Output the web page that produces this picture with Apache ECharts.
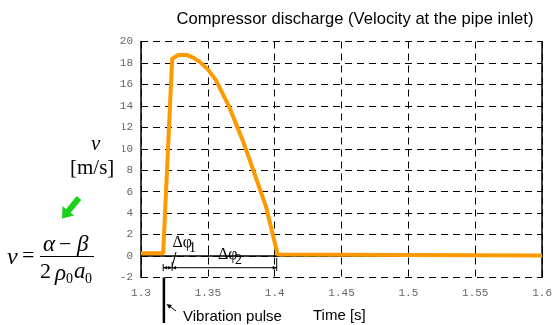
<!DOCTYPE html>
<html lang="en">
<head>
    <meta charset="UTF-8">
    <title>Compressor discharge</title>
    <script src="https://cdn.jsdelivr.net/npm/echarts@6/dist/echarts.min.js"></script>
    <style>
        body { margin: 0; padding: 0; background: #fff; }
        #box { width: 555px; height: 325px; }
    </style>
</head>
<body>
<div id="box"></div>
<script>
    // time [s] and velocity [m/s]
    var times = [1.3, 1.3166, 1.3233, 1.328, 1.334, 1.339, 1.344, 1.350, 1.356, 1.366, 1.376, 1.384, 1.3935, 1.4022, 1.6];
    var velocity = [0.25, 0.25, 18.4, 18.75, 18.75, 18.5, 18.1, 17.4, 16.4, 13.9, 10.8, 8.0, 4.6, 0.15, 0.05];
    var xTicks = [1.3, 1.35, 1.4, 1.45, 1.5, 1.55, 1.6];
    var pulseTime = 1.3166;   // vibration pulse
    var phi1End = 1.3233;     // end of delta phi 1
    var phi2End = 1.4015;     // end of delta phi 2

    var serif = '"Liberation Serif", "DejaVu Serif", serif';
    var sans = '"Liberation Sans", Arial, sans-serif';
    var mono = '"Liberation Mono", "DejaVu Sans Mono", monospace';

    var myChart = echarts.init(document.getElementById('box'));

    var option = {
        animation: false,
        grid: { left: 141, right: 11, top: 41.5, bottom: 47.5 },
        xAxis: {
            type: 'value',
            min: xTicks[0],
            max: xTicks[xTicks.length - 1],
            interval: 0.05,
            axisLine: { lineStyle: { color: '#000', width: 1.5 } },
            axisTick: { inside: true, length: 4, lineStyle: { color: '#000' } },
            axisLabel: { color: '#666', fontFamily: mono, fontSize: 11, margin: 10 },
            splitLine: { show: true, lineStyle: { color: '#000', type: [7, 5], width: 1 } }
        },
        yAxis: [{
            type: 'value',
            min: -2,
            max: 20,
            interval: 2,
            axisLine: { show: true, lineStyle: { color: '#000', width: 1.5 } },
            axisTick: { show: true, inside: true, length: 4, lineStyle: { color: '#000' } },
            axisLabel: { color: '#666', fontFamily: mono, fontSize: 11, margin: 8 },
            splitLine: { show: true, lineStyle: { color: '#000', type: [7, 5], width: 1 } }
        }, {
            type: 'value',
            position: 'right',
            min: -2,
            max: 20,
            interval: 2,
            axisLine: { show: true, lineStyle: { color: '#000', width: 1.5 } },
            axisTick: { show: false },
            axisLabel: { show: false },
            splitLine: { show: false }
        }],
        series: [{
            type: 'line',
            data: times.map(function (t, i) { return [t, velocity[i]]; }),
            symbol: 'none',
            lineStyle: { color: '#ff9900', width: 4 },
            z: 5
        }]
    };
    myChart.setOption(option);

    function px(t, v) {
        return myChart.convertToPixel({ gridIndex: 0 }, [t, v]);
    }
    function txt(x, y, s, size, font, extra) {
        var st = { text: s, x: x, y: y, fill: '#000', font: (extra || '') + ' ' + size + 'px ' + font, verticalAlign: 'middle' };
        return { type: 'text', z: 100, style: st };
    }
    function ln(x1, y1, x2, y2, w) {
        return { type: 'line', z: 100, shape: { x1: x1, y1: y1, x2: x2, y2: y2 }, style: { stroke: '#000', lineWidth: w || 1 } };
    }
    function head(x, y, dx, dy, len, wid) {
        // small arrow head with tip at (x, y) pointing along (dx, dy)
        var n = Math.sqrt(dx * dx + dy * dy), ux = dx / n, uy = dy / n;
        var bx = x - ux * len, by = y - uy * len;
        return { type: 'polygon', z: 100, shape: { points: [[x, y], [bx - uy * wid, by + ux * wid], [bx + uy * wid, by - ux * wid]] }, style: { fill: '#000' } };
    }

    var pPulse = px(pulseTime, -2);
    var p1 = px(phi1End, -2);
    var p2 = px(phi2End, -2);
    var dimY = 267.7;

    // green arrow pointing to the formula
    var tail = [79, 198], tip = [62, 218.5];
    var dx = tip[0] - tail[0], dy = tip[1] - tail[1];
    var L = Math.sqrt(dx * dx + dy * dy), ux = dx / L, uy = dy / L, nx = -uy, ny = ux;
    var hb = [tip[0] - ux * 10, tip[1] - uy * 10];
    var green = {
        type: 'polygon', z: 100,
        shape: { points: [
            [tail[0] + nx * 3, tail[1] + ny * 3], [hb[0] + nx * 3, hb[1] + ny * 3], [hb[0] + nx * 7.5, hb[1] + ny * 7.5],
            tip,
            [hb[0] - nx * 7.5, hb[1] - ny * 7.5], [hb[0] - nx * 3, hb[1] - ny * 3], [tail[0] - nx * 3, tail[1] - ny * 3]
        ] },
        style: { fill: '#19d219' }
    };

    myChart.setOption({
        graphic: [
            { type: 'text', z: 100, style: { text: 'Compressor discharge (Velocity at the pipe inlet)', x: 355, y: 19, align: 'center', verticalAlign: 'middle', fill: '#000', font: '16.6px ' + sans } },
            // white patch over the first digit of two tick labels, as in the picture
            { type: 'rect', z: 100, shape: { x: 114, y: 118, width: 8.5, height: 37 }, style: { fill: '#fff' } },
            txt(91, 144, 'v', 21, serif, 'italic'),
            txt(70, 168, '[m/s]', 21, serif),
            green,
            // formula v = (alpha - beta) / (2 rho0 a0)
            txt(7, 258, 'v', 24, serif, 'italic'),
            txt(22, 256, '=', 22, serif),
            txt(43, 245, 'α', 23, serif, 'italic'),
            txt(59, 245, '−', 22, serif),
            txt(77, 245, 'β', 23, serif, 'italic'),
            ln(40, 256.5, 94, 256.5, 1.2),
            txt(40, 272, '2', 22, serif),
            txt(55, 274, 'ρ', 23, serif, 'italic'),
            txt(66, 279, '0', 14, serif),
            txt(74, 272, 'a', 23, serif, 'italic'),
            txt(85, 279, '0', 14, serif),
            // delta phi annotations
            txt(172.5, 243, 'Δφ', 16, serif),
            txt(189, 248, '1', 14, serif),
            txt(218, 255, 'Δφ', 16, serif),
            txt(235, 260, '2', 14, serif),
            ln(pPulse[0], dimY, p2[0], dimY, 1),
            ln(pPulse[0], 264, pPulse[0], 271, 1),
            ln(p1[0], 262, p1[0], 271, 1),
            ln(p2[0], 258, p2[0], 271, 1),
            ln(176, 252, p1[0], 266.5, 1),
            head(pPulse[0], dimY, -1, 0, 4, 1.8),
            head(p1[0], dimY, -1, 0, 4, 1.8),
            head(p1[0], dimY, 1, 0, 4, 1.8),
            head(p2[0], dimY, 1, 0, 4, 1.8),
            // vibration pulse marker
            ln(pPulse[0] + 0.7, pPulse[1], pPulse[0] + 0.7, 323, 2.5),
            ln(176, 311, 168, 305, 1),
            head(166.5, 304, -1.4, -1, 5, 2.3),
            txt(183, 317, 'Vibration pulse', 15, sans),
            txt(313, 315.5, 'Time [s]', 15, sans)
        ]
    });
</script>
</body>
</html>
